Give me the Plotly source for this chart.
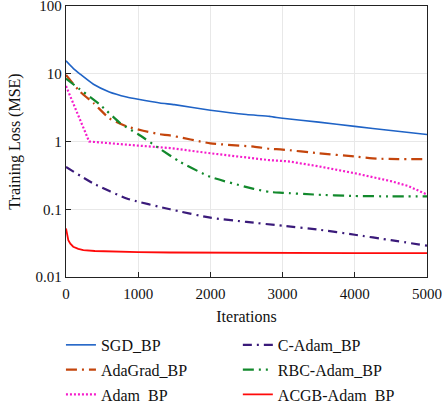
import plotly.graph_objects as go

# ---- data ----
sgd_x = [0, 100, 200, 380, 600, 840, 1000, 1300, 1500, 2000, 2500, 2820, 3000, 3500, 4000, 4500, 5000]
sgd_y = [15.5, 12.0, 9.8, 7.0, 5.4, 4.55, 4.2, 3.7, 3.5, 2.9, 2.5, 2.35, 2.2, 1.93, 1.67, 1.45, 1.27]

adagrad_x = [0, 190, 380, 600, 840, 1070, 1300, 1440, 2000, 2600, 2820, 3000, 3500, 4000, 4300, 4600, 5000]
adagrad_y = [9.6, 5.5, 3.7, 2.2, 1.67, 1.44, 1.28, 1.23, 0.94, 0.84, 0.78, 0.76, 0.67, 0.6, 0.56, 0.55, 0.55]

adam_x = [0, 320, 1000, 1300, 1440, 2000, 2820, 3075, 3500, 4000, 4500, 4740, 5000]
adam_y = [6.6, 1.0, 0.87, 0.81, 0.8, 0.67, 0.53, 0.51, 0.43, 0.34, 0.26, 0.22, 0.165]

cadam_x = [0, 380, 840, 1440, 2000, 2500, 3000, 3500, 4000, 4500, 5000]
cadam_y = [0.42, 0.24, 0.144, 0.1, 0.075, 0.065, 0.057, 0.05, 0.042, 0.035, 0.029]

rbc_x = [0, 100, 470, 750, 1000, 1300, 1580, 2000, 2600, 2820, 3000, 3430, 4000, 4500, 5000]
rbc_y = [8.5, 7.0, 3.5, 1.87, 1.28, 0.78, 0.5, 0.30, 0.2, 0.18, 0.175, 0.165, 0.157, 0.155, 0.155]

acgb_x = [0, 15, 32, 60, 100, 170, 240, 400, 600, 1000, 1440, 2000, 3000, 4000, 5000]
acgb_y = [0.052, 0.042, 0.035, 0.031, 0.028, 0.026, 0.025, 0.0242, 0.0237, 0.0233, 0.023, 0.0228, 0.0226, 0.0225, 0.0225]

names = ["SGD_BP", "AdaGrad_BP", "Adam_BP", "C-Adam_BP", "RBC-Adam_BP", "ACGB-Adam_BP"]
xticks = [0, 1000, 2000, 3000, 4000, 5000]
yticks = [0.01, 0.1, 1, 10, 100]
ytick_text = ["0.01", "0.1", "1", "10", "100"]

FONT = "Liberation Serif"

series = [
    (sgd_x, sgd_y, names[0], "#1f63c6", "solid", 1.6, "legend", "spline"),
    (adagrad_x, adagrad_y, names[1], "#c4450c", "11px,5px,2px,5px", 2.2, "legend", "spline"),
    (adam_x, adam_y, names[2], "#f51ccb", "2px,2px", 2.2, "legend", "linear"),
    (cadam_x, cadam_y, names[3], "#3a1a7a", "9px,5px,2px,5px", 2.2, "legend2", "spline"),
    (rbc_x, rbc_y, names[4], "#12892c", "11px,5px,2px,5px,2px,5px", 2.2, "legend2", "spline"),
    (acgb_x, acgb_y, names[5], "#ff0a0a", "solid", 1.8, "legend2", "linear"),
]

fig = go.Figure()
for i, (xs, ys, nm, col, dash, w, lg, shp) in enumerate(series):
    line = dict(color=col, dash=dash, width=w, shape=shp)
    if shp == "spline":
        line["smoothing"] = 0.5
    fig.add_trace(go.Scatter(
        x=xs, y=ys, name=nm, mode="lines", line=line,
        legend=lg, legendgroup=nm,
    ))

axis_common = dict(
    showline=True, linecolor="#222", linewidth=1.3, mirror=True,
    ticks="inside", ticklen=5, tickcolor="#222",
    showgrid=True, gridcolor="#e8e8e8", gridwidth=1,
    zeroline=False, ticklabeloverflow="allow",
    tickfont=dict(family=FONT, size=15, color="#111"),
)

leg_common = dict(y=-0.188, xanchor="left", yanchor="top", orientation="v",
                  tracegroupgap=1, font=dict(family=FONT, size=16),
                  bgcolor="rgba(0,0,0,0)")

fig.update_layout(
    width=442, height=401,
    margin=dict(l=66, r=15, t=6, b=124, autoexpand=False),
    paper_bgcolor="white", plot_bgcolor="white",
    font=dict(family=FONT, size=15, color="#111"),
    xaxis=dict(range=[0, 5000], tickvals=xticks, ticklabelstandoff=3,
               title=dict(text="Iterations", font=dict(family=FONT, size=16), standoff=9),
               **axis_common),
    yaxis=dict(type="log", range=[-2, 2], tickvals=yticks, ticktext=ytick_text,
               title=dict(text="Training Loss (MSE)", font=dict(family=FONT, size=16), standoff=10),
               **axis_common),
    legend=dict(x=-0.014, **leg_common),
    legend2=dict(x=0.476, **leg_common),
)

fig.write_html("out.html", config={"displayModeBar": False},
               post_script="document.body.style.margin='0';document.body.style.padding='0';")
